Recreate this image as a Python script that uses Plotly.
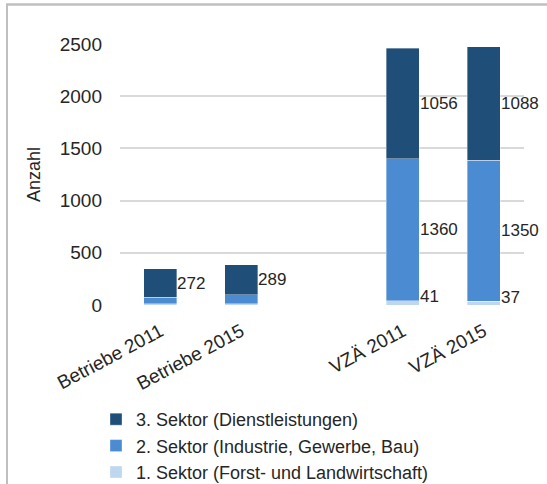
import plotly.graph_objects as go

categories = ["Betriebe 2011", "Betriebe 2015", " ", "VZÄ 2011", "VZÄ 2015"]
sektor1 = [10, 12, None, 41, 37]
sektor2 = [64, 84, None, 1360, 1350]
sektor3 = [272, 289, None, 1056, 1088]
labels1 = [None, None, None, "41", "37"]
labels2 = [None, None, None, "1360", "1350"]
labels3 = ["272", "289", None, "1056", "1088"]
names = ["1. Sektor (Forst- und Landwirtschaft)",
         "2. Sektor (Industrie, Gewerbe, Bau)",
         "3. Sektor (Dienstleistungen)"]
colors = ["#BDD7EE", "#4A8BD2", "#1F4E79"]
y_ticks = [0, 500, 1000, 1500, 2000, 2500]

FONT = "Liberation Sans, Arial, sans-serif"
TXT = "#262626"

W, H = 547, 484
ML, MR, MT, MB = 120, 23, 44, 179
pw, ph = W - ML - MR, H - MT - MB

fig = go.Figure()
for vals, name, col in zip([sektor1, sektor2, sektor3], names, colors):
    fig.add_trace(go.Bar(x=categories, y=vals, name=name, hoverinfo="skip",
                         marker=dict(color=col, line=dict(width=0.6, color="rgba(255,255,255,0.6)"))))

annotations = []
base = [0] * len(categories)
for vals, labs, ysh in [(sektor1, labels1, 6), (sektor2, labels2, 0), (sektor3, labels3, 0)]:
    for i, (v, lab) in enumerate(zip(vals, labs)):
        if v is None:
            continue
        if lab is not None:
            annotations.append(dict(x=categories[i], y=base[i] + v / 2, xref="x", yref="y",
                                    text=lab, showarrow=False, xanchor="left", yanchor="middle",
                                    xshift=15, yshift=ysh,
                                    font=dict(family=FONT, size=17, color=TXT)))
        base[i] += v

# light grey frame (left and top edges) in pixel positions of the page
FRAME_LEFT_PX, FRAME_TOP_PX = 7, 4
fig.add_shape(type="line", xref="paper", yref="paper",
              x0=(FRAME_LEFT_PX - ML) / pw, x1=(FRAME_LEFT_PX - ML) / pw,
              y0=(H - MB - FRAME_TOP_PX) / ph, y1=(H - MB - H - 5) / ph,
              line=dict(color="#BFBFBF", width=2), layer="above")
fig.add_shape(type="line", xref="paper", yref="paper",
              x0=(FRAME_LEFT_PX - 1 - ML) / pw, x1=(W + 5 - ML) / pw,
              y0=(H - MB - FRAME_TOP_PX - 0.5) / ph, y1=(H - MB - FRAME_TOP_PX - 0.5) / ph,
              line=dict(color="#BFBFBF", width=2.5), layer="above")

fig.update_layout(
    width=W, height=H,
    margin=dict(l=ML, r=MR, t=MT, b=MB, autoexpand=False),
    barmode="stack", bargap=0.59,
    plot_bgcolor="white", paper_bgcolor="white",
    font=dict(family=FONT, size=18, color=TXT),
    showlegend=True,
    legend=dict(traceorder="reversed", x=(96 - ML) / pw, y=(H - MB - 401) / ph,
                xanchor="left", yanchor="top", itemwidth=30,
                font=dict(family=FONT, size=18, color=TXT),
                tracegroupgap=0, bgcolor="rgba(0,0,0,0)"),
    annotations=annotations,
)
fig.update_xaxes(type="category", categoryorder="array", categoryarray=categories,
                 range=[-0.5, len(categories) - 0.5],
                 tickangle=-28, showgrid=False, showline=False, ticks="", automargin=False,
                 ticklabelstandoff=11,
                 tickfont=dict(family=FONT, size=19, color=TXT))
fig.update_yaxes(range=[0, 2500], tickvals=y_ticks, showgrid=True, gridcolor="#D9D9D9",
                 gridwidth=1.5, zeroline=False, showline=False, automargin=False,
                 ticks="", ticklabelstandoff=17, tickfont=dict(family=FONT, size=19, color=TXT),
                 title=dict(text="Anzahl", font=dict(family=FONT, size=18, color=TXT), standoff=14))

fig.write_html("out.html", config={"displayModeBar": False},
               post_script="document.body.style.margin='0';document.body.style.overflow='hidden';")
